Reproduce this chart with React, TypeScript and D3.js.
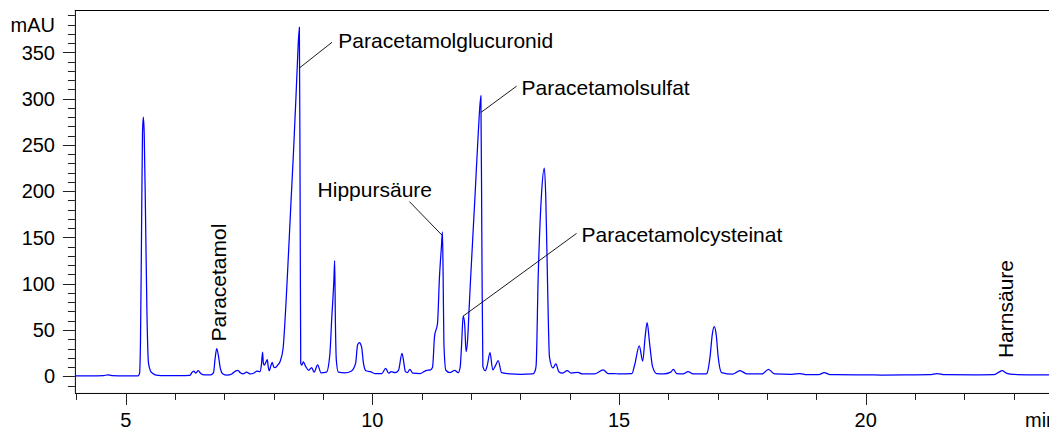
import React from "react";
import * as d3 from "d3";

// HPLC trace of urine after paracetamol intake: [retention time (min), absorbance (mAU)]
const chromatogram: [number, number][] = [
  [3.97, 0.5], [4.3, 0.4], [4.55, 0.6], [4.63, 1.6], [4.72, 0.8], [5.0, 0.4], [5.25, 0.5],
  [5.28, 3], [5.3, 40], [5.32, 150], [5.34, 262], [5.357, 280], [5.375, 262], [5.4, 180],
  [5.43, 70], [5.46, 15], [5.5, 6], [5.55, 3], [5.62, 1.2], [5.8, 0.6], [6.1, 0.6], [6.3, 1],
  [6.35, 4.5], [6.38, 5.5], [6.42, 3.5], [6.47, 6], [6.52, 3], [6.6, 1.5], [6.72, 1.5],
  [6.78, 4], [6.81, 18], [6.845, 30], [6.88, 22], [6.92, 8], [6.97, 2.5], [7.05, 1.2],
  [7.15, 2.5], [7.22, 5.5], [7.27, 6.5], [7.33, 3.5], [7.38, 2.5], [7.45, 4.5], [7.52, 2.5],
  [7.6, 3.5], [7.66, 5.7], [7.72, 5], [7.75, 12], [7.775, 26], [7.79, 14], [7.81, 12],
  [7.84, 15], [7.87, 18], [7.89, 10], [7.91, 6], [7.94, 11], [7.97, 15], [8.0, 10],
  [8.03, 9.5], [8.08, 12], [8.13, 16], [8.19, 30], [8.25, 80], [8.3, 133], [8.35, 188],
  [8.4, 241], [8.45, 300], [8.48, 338], [8.52, 377], [8.535, 200], [8.548, 14], [8.57, 12],
  [8.6, 15.6], [8.645, 11], [8.71, 6.5], [8.77, 9.3], [8.82, 4.5], [8.89, 12.4], [8.96, 3.8],
  [9.07, 4.6], [9.14, 24.8], [9.175, 61], [9.22, 104], [9.236, 125], [9.25, 61], [9.27, 17],
  [9.31, 4.5], [9.44, 3.8], [9.57, 5.5], [9.66, 14], [9.7, 33.8], [9.735, 36.3], [9.78, 32],
  [9.82, 14], [9.87, 6], [9.96, 5], [10.05, 3], [10.19, 3], [10.27, 8.6], [10.33, 3.3],
  [10.38, 5], [10.46, 4], [10.53, 6.5], [10.6, 24.8], [10.63, 17.6], [10.67, 5], [10.71, 4],
  [10.76, 7.5], [10.82, 3.3], [10.97, 3], [11.1, 6.5], [11.18, 7], [11.22, 9.7], [11.26, 42.8],
  [11.32, 57], [11.36, 107], [11.4, 140], [11.42, 156], [11.435, 107], [11.45, 35.6],
  [11.49, 6.5], [11.57, 4], [11.67, 6.5], [11.74, 4], [11.78, 10], [11.81, 35.6], [11.84, 65],
  [11.87, 57], [11.9, 26.6], [11.93, 39], [11.96, 71.6], [11.99, 104], [12.08, 194],
  [12.15, 266], [12.2, 303], [12.22, 140], [12.24, 10.4], [12.29, 6], [12.33, 12],
  [12.385, 25.5], [12.44, 7], [12.5, 12], [12.55, 16.9], [12.62, 3.9], [12.8, 2.5],
  [13.0, 2.2], [13.25, 2.5], [13.3, 6], [13.32, 12], [13.36, 104], [13.43, 198],
  [13.486, 225], [13.515, 194], [13.55, 104], [13.59, 21], [13.66, 9], [13.72, 13.3],
  [13.78, 5], [13.85, 3.4], [13.95, 6], [14.03, 3.5], [14.17, 4.3], [14.25, 2.5], [14.5, 2.5],
  [14.68, 6.9], [14.78, 3], [14.9, 3], [15.0, 2.5], [15.26, 2.8], [15.32, 13], [15.41, 33],
  [15.48, 16.5], [15.53, 42.8], [15.57, 58], [15.62, 35.6], [15.68, 10.4], [15.76, 3],
  [15.9, 2.5], [16.05, 4.5], [16.1, 7.5], [16.17, 3], [16.3, 2.5], [16.4, 5], [16.5, 2.5],
  [16.75, 2.5], [16.78, 3], [16.845, 21], [16.89, 45], [16.93, 53.6], [16.97, 45],
  [17.01, 21], [17.08, 4], [17.3, 2.3], [17.45, 6], [17.6, 2.5], [17.9, 2.5], [18.03, 7.5],
  [18.15, 2.5], [18.5, 2], [18.67, 3], [18.8, 1.8], [19.05, 1.8], [19.16, 4], [19.28, 1.8],
  [19.8, 1.6], [20.3, 1.4], [20.8, 1.5], [21.3, 1.7], [21.45, 3], [21.6, 1.7], [22.2, 1.6],
  [22.6, 1.8], [22.7, 4.5], [22.77, 6], [22.85, 3.5], [23.0, 2], [23.5, 1.6], [24.0, 1.6],
];

// Axis ticks
const yMajorTicks = [0, 50, 100, 150, 200, 250, 300, 350];
const yMinorTicks = d3.range(-10, 391, 10);
const xMajorTicks = [5, 10, 15, 20];
const xMinorTicks = d3.range(4, 24, 1);
const yUnit = "mAU";
const xUnit = "min";

// Identified compounds, pointed at by a leader line: name, retention time, mAU where the line ends
const leaderNames = ["Paracetamolglucuronid", "Paracetamolsulfat", "Hippursäure", "Paracetamolcysteinat"];
const leaderTimes = [8.52, 12.2, 11.42, 11.84];
const leaderValues = [333, 285, 152, 65];

// Compounds labelled by upright text above their peak
const uprightNames = ["Paracetamol", "Harnsäure"];
const uprightTimes = [6.845, 22.77];
const uprightValues = [30, 6];

// Label placement in pixels relative to the point on the trace
const leaderLayout = [
  { lineDx: 32.7, lineDy: -25.8, textDx: 39, textDy: -20 },
  { lineDx: 35.7, lineDy: -26.3, textDx: 40.7, textDy: -17.3 },
  { lineDx: -33, lineDy: -34, textDx: -124.8, textDy: -39 },
  { lineDx: 113.4, lineDy: -82.7, textDx: 118.4, textDy: -74.3 },
];
const uprightLayout = [
  { dx: 9.3, dy: -7 },
  { dx: 10.7, dy: -12.7 },
];

const W = 1049;
const H = 430;
const FONT = "Arial, 'Liberation Sans', Helvetica, sans-serif";

export default function App() {
  const x = d3.scaleLinear().domain([3.97, 24]).range([74.9, 1063]);
  const y = d3.scaleLinear().domain([-18, 395.7]).range([392.96, 10]);
  const left = x(3.97);
  const top = y(395.7);
  const bottom = y(-18);
  const right = x(24);

  const line = d3
    .line<[number, number]>()
    .x((d) => x(d[0]))
    .y((d) => y(d[1]))
    .curve(d3.curveMonotoneX);

  return (
    <svg
      width={W}
      height={H}
      style={{ position: "absolute", left: 0, top: 0, background: "#fff" }}
      fontFamily={FONT}
    >
      <rect x={0} y={0} width={W} height={H} fill="#fff" />
      <defs>
        <clipPath id="plotArea">
          <rect x={left} y={top} width={right - left} height={bottom - top} />
        </clipPath>
      </defs>

      {/* frame */}
      <line x1={left} x2={right} y1={top + 0.5} y2={top + 0.5} stroke="#000" strokeWidth={1} />
      <line x1={left + 0.5} x2={left + 0.5} y1={top} y2={bottom} stroke="#000" strokeWidth={1} />
      <line x1={left} x2={right} y1={bottom + 0.5} y2={bottom + 0.5} stroke="#000" strokeWidth={1} />

      {/* y axis ticks */}
      {yMinorTicks.map((v) => {
        const major = yMajorTicks.includes(v);
        const yy = Math.round(y(v)) + 0.5;
        return (
          <line key={"ym" + v} x1={left - (major ? 12 : 7)} x2={left} y1={yy} y2={yy} stroke="#222" strokeWidth={1} />
        );
      })}
      {yMajorTicks.map((v) => (
        <text key={"yl" + v} x={55} y={y(v)} dy="0.36em" textAnchor="end" fontSize={20} fill="#000">
          {v}
        </text>
      ))}
      <text x={55} y={32} textAnchor="end" fontSize={20} fill="#000">
        {yUnit}
      </text>

      {/* x axis ticks */}
      {xMinorTicks.map((t) => {
        const major = xMajorTicks.includes(t);
        const xx = Math.round(x(t)) + 0.5;
        return (
          <line key={"xm" + t} x1={xx} x2={xx} y1={bottom} y2={bottom + (major ? 12 : 7)} stroke="#222" strokeWidth={1} />
        );
      })}
      {xMajorTicks.map((t) => (
        <text key={"xl" + t} x={x(t)} y={426.5} textAnchor="middle" fontSize={20} fill="#000">
          {t}
        </text>
      ))}
      <text x={1025} y={426.5} fontSize={20} fill="#000">
        {xUnit}
      </text>

      {/* trace */}
      <path d={line(chromatogram) ?? ""} fill="none" stroke="#0000ff" strokeWidth={1.25} clipPath="url(#plotArea)" />

      {/* leader-line labels */}
      {leaderNames.map((name, i) => {
        const px = x(leaderTimes[i]);
        const py = y(leaderValues[i]);
        const l = leaderLayout[i];
        return (
          <g key={name}>
            <line x1={px} y1={py} x2={px + l.lineDx} y2={py + l.lineDy} stroke="#000" strokeWidth={0.9} />
            <text x={px + l.textDx} y={py + l.textDy} fontSize={21} fill="#000">
              {name}
            </text>
          </g>
        );
      })}

      {/* upright labels */}
      {uprightNames.map((name, i) => {
        const px = x(uprightTimes[i]) + uprightLayout[i].dx;
        const py = y(uprightValues[i]) + uprightLayout[i].dy;
        return (
          <text key={name} transform={`translate(${px},${py}) rotate(-90)`} fontSize={21} fill="#000">
            {name}
          </text>
        );
      })}
    </svg>
  );
}
